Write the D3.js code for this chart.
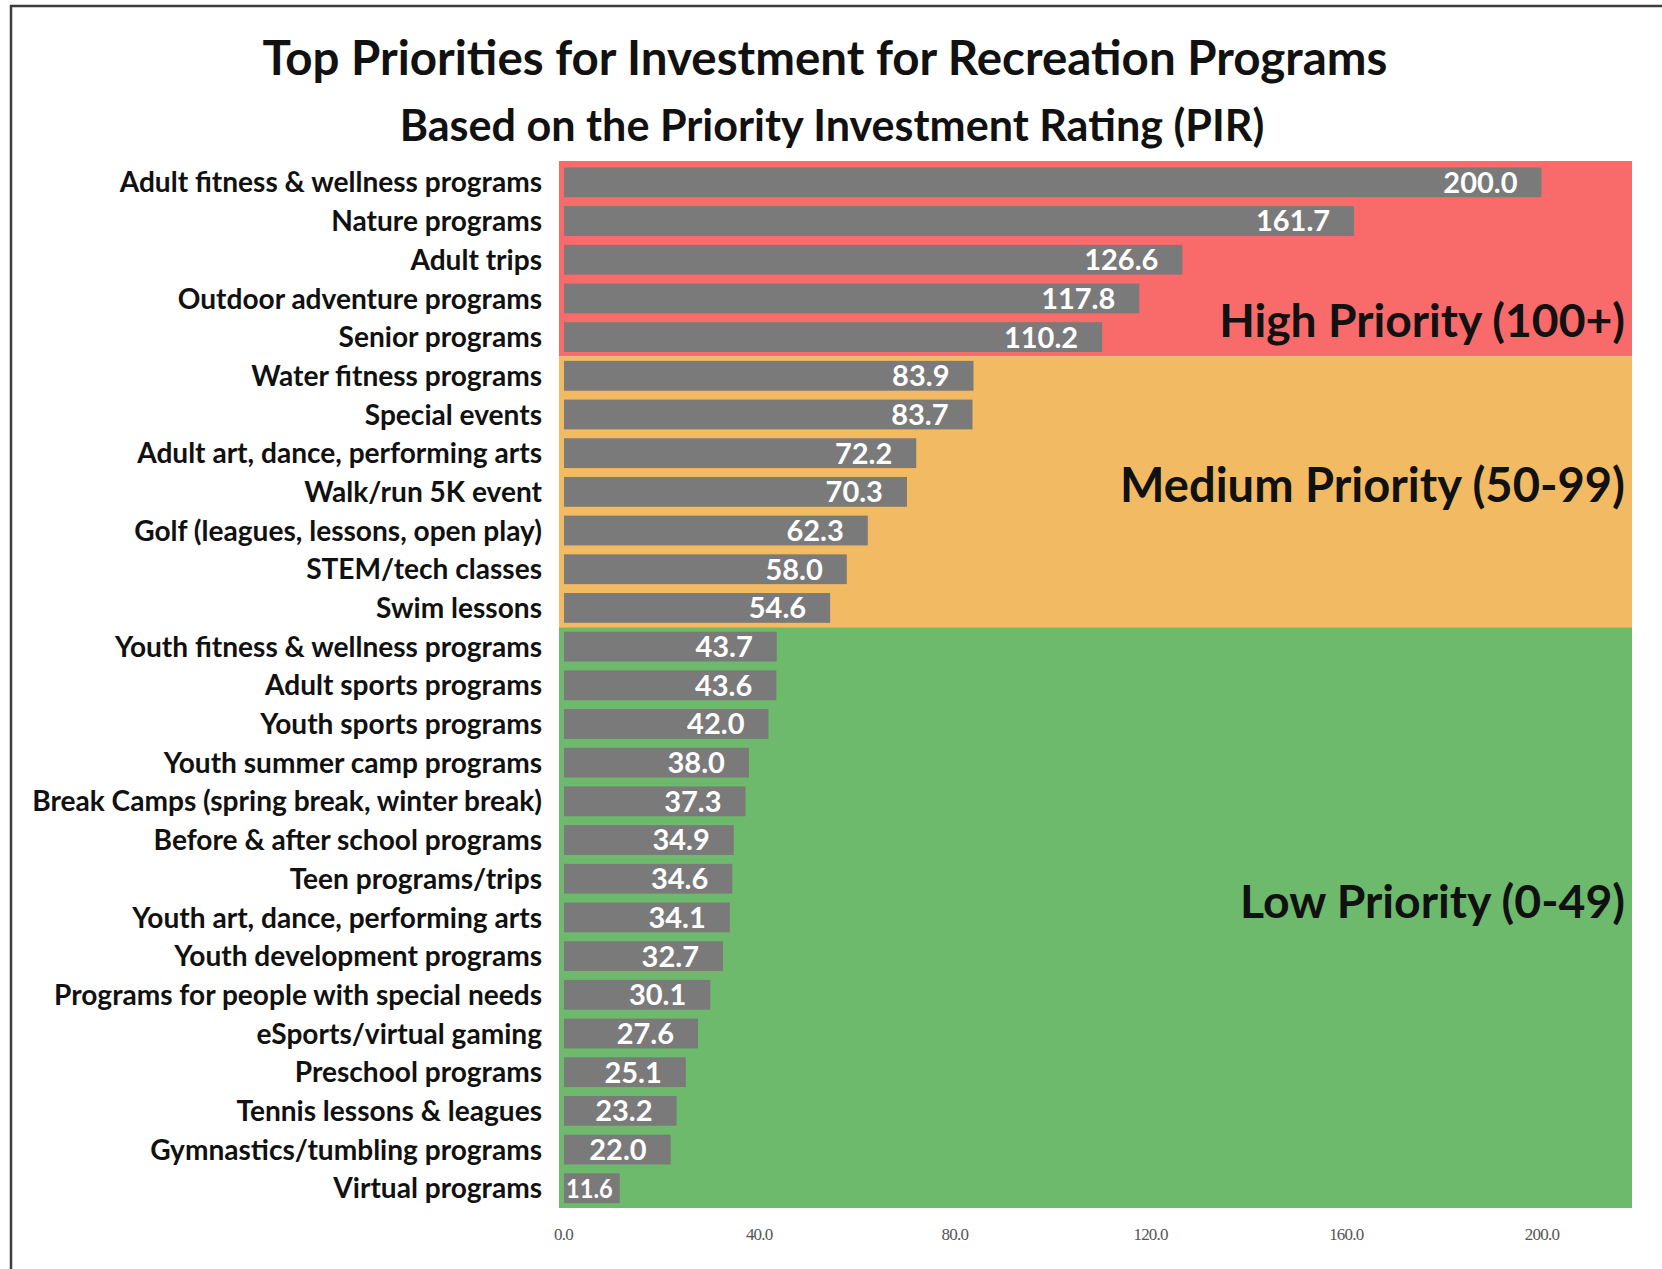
<!DOCTYPE html>
<html>
<head>
<meta charset="utf-8">
<script src="https://cdn.jsdelivr.net/npm/d3@7"></script>
<style>
  html, body { margin: 0; padding: 0; background: #fff; }
  svg { display: block; }
</style>
</head>
<body>
<svg id="chart" width="1662" height="1269"></svg>
<script>
const categories = [
  "Adult fitness & wellness programs",
  "Nature programs",
  "Adult trips",
  "Outdoor adventure programs",
  "Senior programs",
  "Water fitness programs",
  "Special events",
  "Adult art, dance, performing arts",
  "Walk/run 5K event",
  "Golf (leagues, lessons, open play)",
  "STEM/tech classes",
  "Swim lessons",
  "Youth fitness & wellness programs",
  "Adult sports programs",
  "Youth sports programs",
  "Youth summer camp programs",
  "Break Camps (spring break, winter break)",
  "Before & after school programs",
  "Teen programs/trips",
  "Youth art, dance, performing arts",
  "Youth development programs",
  "Programs for people with special needs",
  "eSports/virtual gaming",
  "Preschool programs",
  "Tennis lessons & leagues",
  "Gymnastics/tumbling programs",
  "Virtual programs"
];
const values = [200.0, 161.7, 126.6, 117.8, 110.2, 83.9, 83.7, 72.2, 70.3, 62.3, 58.0, 54.6,
  43.7, 43.6, 42.0, 38.0, 37.3, 34.9, 34.6, 34.1, 32.7, 30.1, 27.6, 25.1, 23.2, 22.0, 11.6];
const tickValues = [0, 40, 80, 120, 160, 200];
const zoneNames = ["High Priority (100+)", "Medium Priority (50-99)", "Low Priority (0-49)"];
const zoneFirst = ["Adult fitness & wellness programs", "Water fitness programs", "Youth fitness & wellness programs"];
const zoneLast = ["Senior programs", "Swim lessons", "Virtual programs"];
const zoneColors = ["#F96B6A", "#F1BA63", "#6DBA6C"];
const title = "Top Priorities for Investment for Recreation Programs";
const subtitle = "Based on the Priority Investment Rating (PIR)";

const svg = d3.select("#chart");
const FONT = "Lato, 'Open Sans', sans-serif";

// frame
svg.append("path")
  .attr("d", "M11,1269 L11,6 L1662,6")
  .attr("fill", "none").attr("stroke", "#3d3d3d").attr("stroke-width", 2.5);

const x = d3.scaleLinear().domain([0, 218.5]).range([563, 1632]);
const y = d3.scaleBand().domain(categories).range([163, 1207.6]).paddingInner(0.23).paddingOuter(0.115);

function fitText(sel, targetWidth, base) {
  sel.attr("font-size", base);
  const w = sel.node().getComputedTextLength();
  sel.attr("font-size", base * targetWidth / w);
  return base * targetWidth / w;
}

// zones
const step = y.step();
const zoneData = zoneNames.map((n, i) => ({
  name: n,
  color: zoneColors[i],
  y0: y(zoneFirst[i]) - y.paddingInner() * step / 2,
  y1: y(zoneLast[i]) + y.bandwidth() + y.paddingInner() * step / 2
}));
zoneData[0].y0 = 161;
zoneData[2].y1 = 1208;
svg.append("g").selectAll("rect").data(zoneData).join("rect")
  .attr("x", x(0) - 4)
  .attr("y", d => d.y0)
  .attr("width", x(218.5) - x(0) + 4)
  .attr("height", d => d.y1 - d.y0)
  .attr("fill", d => d.color);

// bars
svg.append("g").selectAll("rect").data(values).join("rect")
  .attr("x", x(0) + 1)
  .attr("y", (d, i) => y(categories[i]))
  .attr("width", d => x(d) - x(0) - 1)
  .attr("height", y.bandwidth())
  .attr("fill", "#7a7a7a");

// value labels
const vl = svg.append("g").selectAll("text").data(values).join("text")
  .attr("y", (d, i) => y(categories[i]) + y.bandwidth() / 2)
  .attr("dy", "0.36em")
  .attr("fill", "#ffffff")
  .attr("font-family", FONT)
  .attr("font-weight", 700)
  .attr("font-size", 29)
  .attr("text-anchor", "end")
  .text(d => d.toFixed(1));
vl.each(function(d) {
  const t = d3.select(this);
  const w = this.getComputedTextLength();
  const barW = x(d) - x(0);
  const right = x(d) - 24;
  if (right - w < x(0) + 3) {
    const avail = barW - 10;
    t.attr("text-anchor", "start").attr("x", x(0) + 3)
      .attr("textLength", avail).attr("lengthAdjust", "spacingAndGlyphs")
      .attr("font-size", 26);
  } else {
    t.attr("x", right);
  }
});

// category labels
const cl = svg.append("g").selectAll("text").data(categories).join("text")
  .attr("x", 542)
  .attr("y", d => y(d) + y.bandwidth() / 2)
  .attr("dy", "0.36em")
  .attr("text-anchor", "end")
  .attr("fill", "#111")
  .attr("font-family", FONT)
  .attr("font-weight", 700)
  .attr("font-size", 25)
  .text(d => d);
let maxW = 0;
cl.each(function() { maxW = Math.max(maxW, this.getComputedTextLength()); });
cl.attr("font-size", 25 * 510 / maxW);

// zone labels
const zoneBaselines = [337, 502, 918];
const zoneWidths = [406, 505, 385];
svg.append("g").selectAll("text").data(zoneData).join("text")
  .attr("x", 1625)
  .attr("y", (d, i) => zoneBaselines[i])
  .attr("text-anchor", "end")
  .attr("fill", "#111")
  .attr("font-family", FONT)
  .attr("font-weight", 700)
  .text(d => d.name)
  .each(function(d, i) { fitText(d3.select(this), zoneWidths[i], 40); });

// axis
const axis = d3.axisBottom(x).tickValues(tickValues).tickFormat(d3.format(".1f")).tickSize(0);
const ag = svg.append("g").attr("transform", "translate(0,1225)").call(axis);
ag.select(".domain").remove();
ag.selectAll("text")
  .attr("font-family", "'Liberation Serif', serif")
  .attr("font-size", 17)
  .attr("letter-spacing", -0.8)
  .attr("fill", "#555");

// titles
const t1 = svg.append("text")
  .attr("x", 825).attr("y", 75)
  .attr("text-anchor", "middle")
  .attr("fill", "#111")
  .attr("font-family", FONT)
  .attr("font-weight", 700)
  .text(title);
fitText(t1, 1125, 44);
const t2 = svg.append("text")
  .attr("x", 832).attr("y", 141)
  .attr("text-anchor", "middle")
  .attr("fill", "#111")
  .attr("font-family", FONT)
  .attr("font-weight", 700)
  .text(subtitle);
fitText(t2, 865, 38);
</script>
</body>
</html>
